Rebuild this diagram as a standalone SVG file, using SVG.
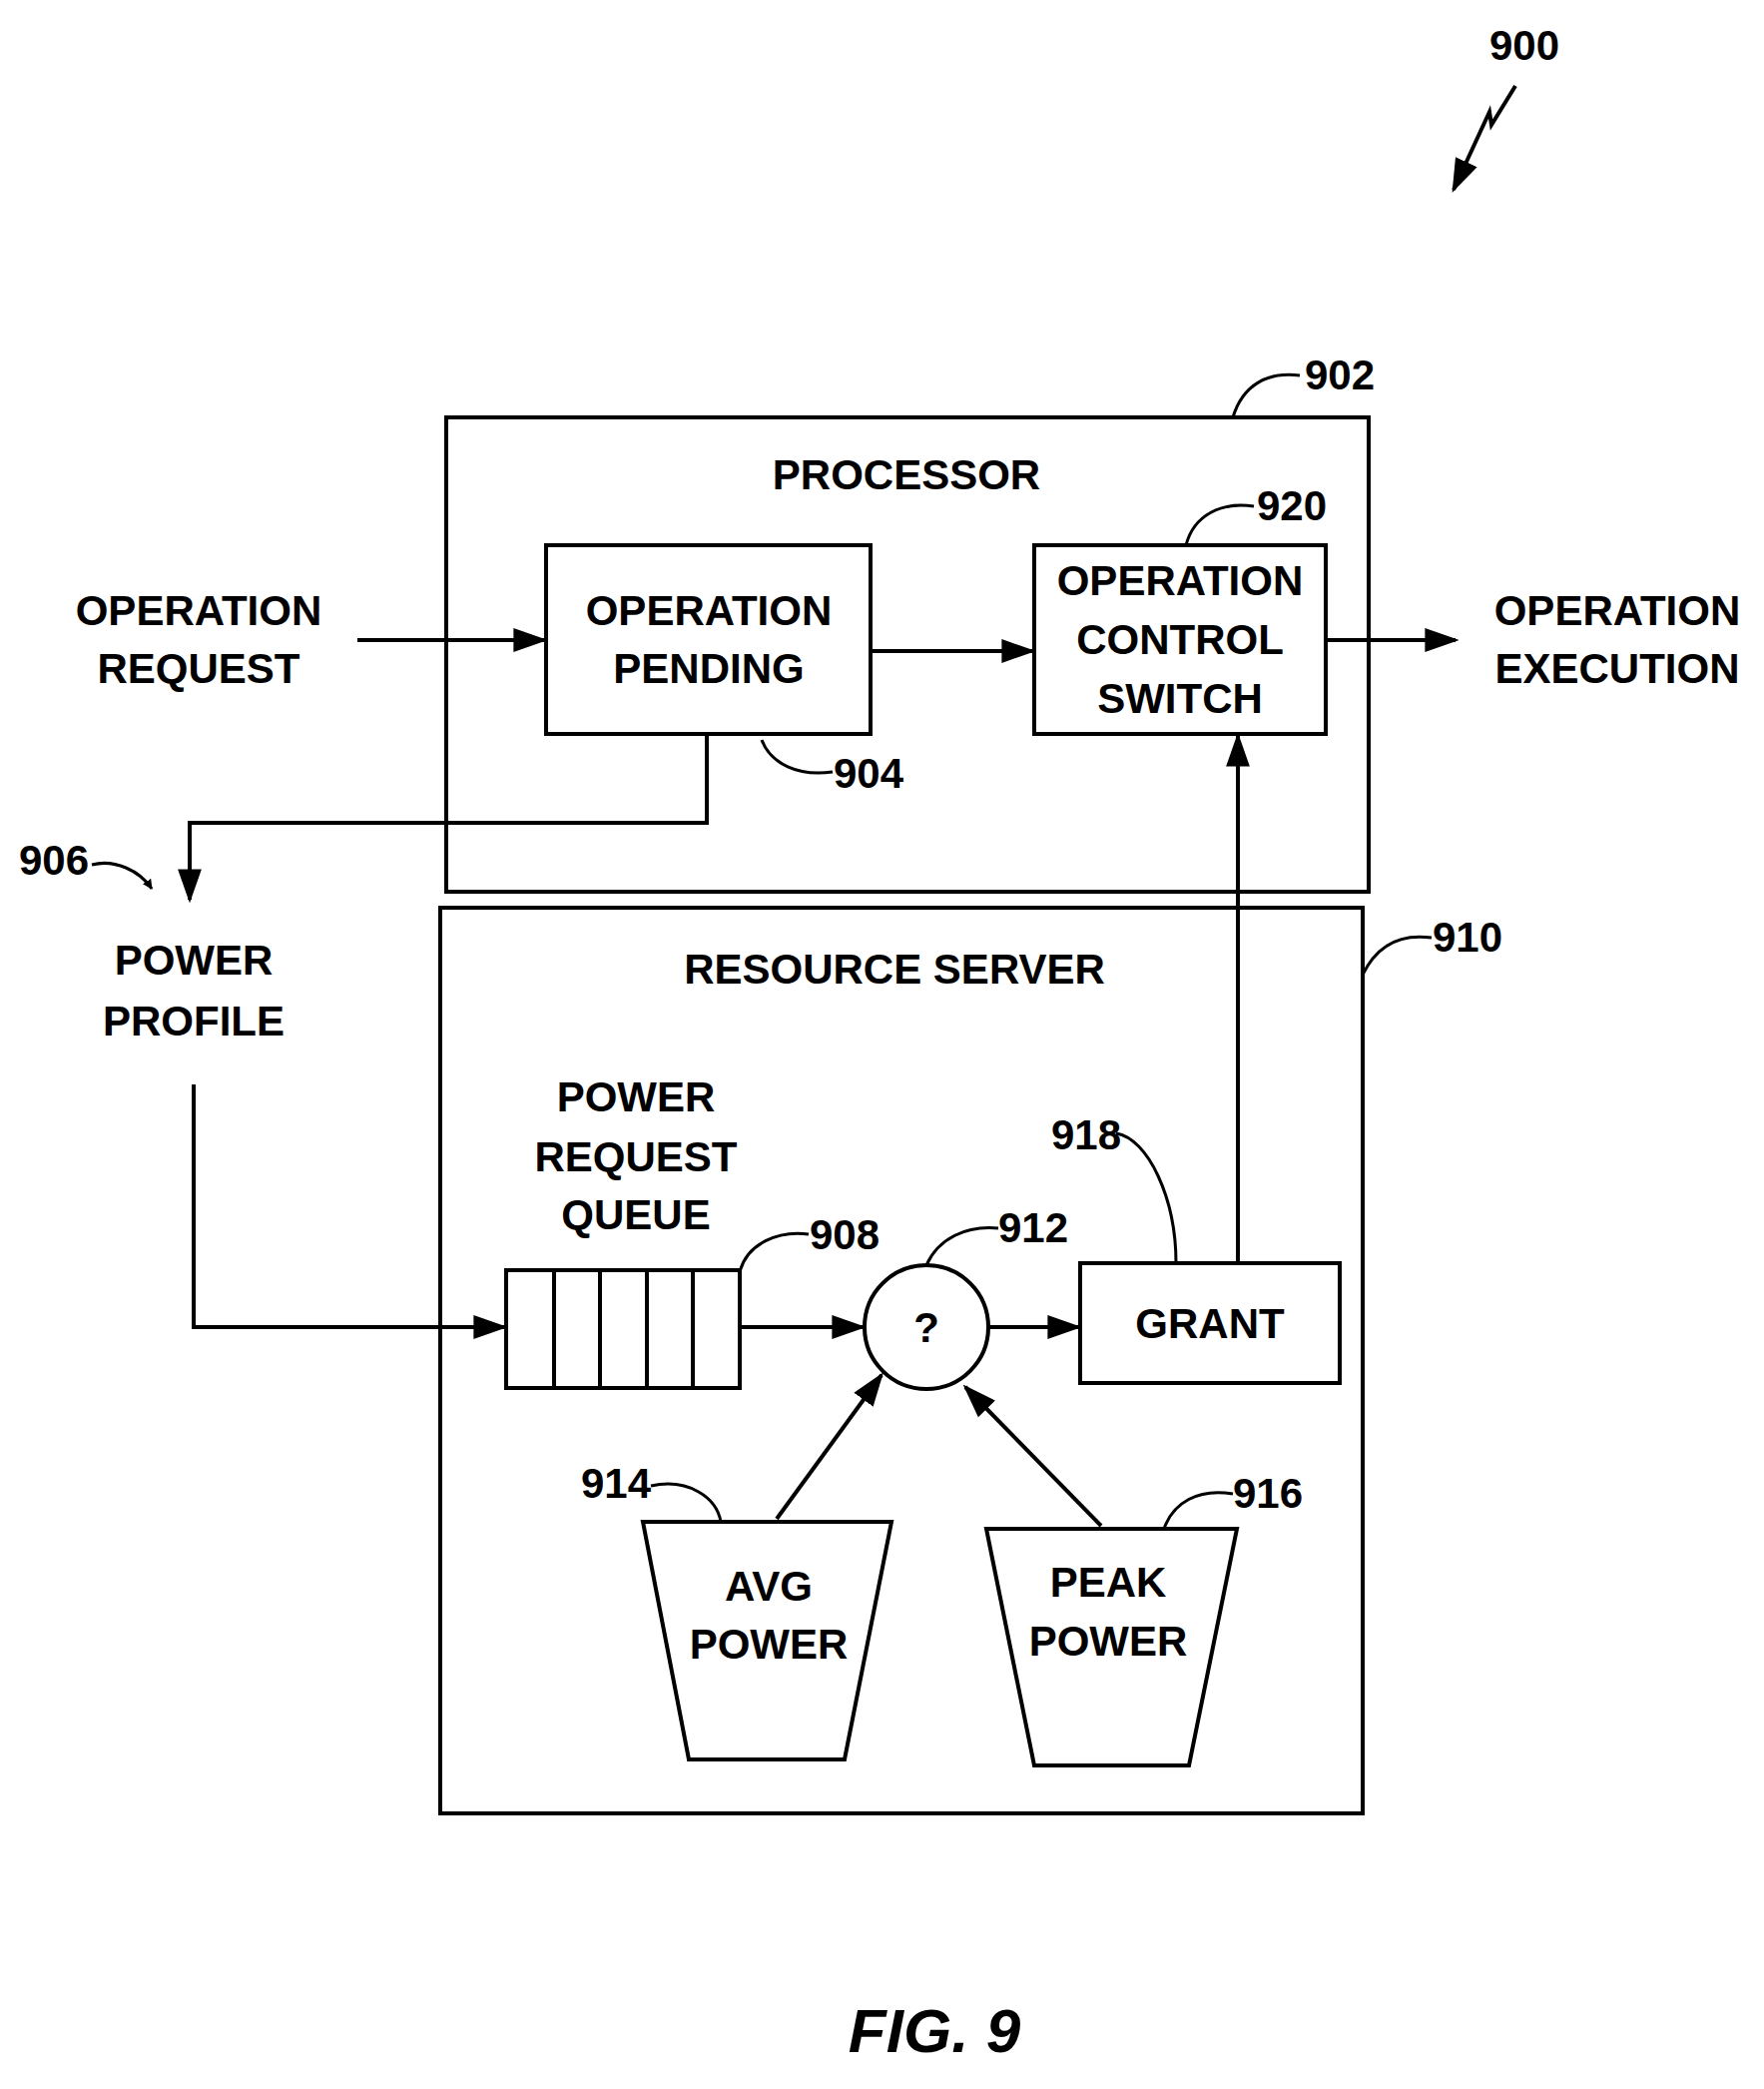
<svg xmlns="http://www.w3.org/2000/svg" width="1767" height="2092" viewBox="0 0 1767 2092">
<style>
text{font-family:"Liberation Sans",Arial,sans-serif;font-weight:bold;font-size:42px;text-anchor:middle;fill:#000}
.b{fill:#fff;stroke:#000;stroke-width:4}
.l{fill:none;stroke:#000;stroke-width:4}
.t{fill:none;stroke:#000;stroke-width:3}
</style>
<defs><marker id="a" markerWidth="10" markerHeight="10" refX="9" refY="5" orient="auto" markerUnits="userSpaceOnUse" viewBox="0 0 10 10"><path d="M0,0 L10,5 L0,10z"/></marker>
<marker id="m" viewBox="0 0 10 10" refX="9" refY="5" markerWidth="34" markerHeight="34" orient="auto" markerUnits="userSpaceOnUse"><path d="M0,1.5 L10,5 L0,8.5z"/></marker></defs>
<g id="processor"><rect class="b" x="447" y="418" width="924" height="475"/><text x="908" y="490">PROCESSOR</text></g>
<g id="server"><rect class="b" x="441" y="909" width="924" height="907"/><text x="896" y="985">RESOURCE SERVER</text></g>
<g id="pending"><rect class="b" x="547" y="546" width="325" height="189"/><text x="710" y="626">OPERATION</text><text x="710" y="684">PENDING</text></g>
<g id="switch"><rect class="b" x="1036" y="546" width="292" height="189"/><text x="1182" y="596">OPERATION</text><text x="1182" y="655">CONTROL</text><text x="1182" y="714">SWITCH</text></g>
<g id="request"><text x="199" y="626">OPERATION</text><text x="199" y="684">REQUEST</text></g>
<g id="execution"><text x="1620" y="626">OPERATION</text><text x="1620" y="684">EXECUTION</text></g>
<g id="profile"><text x="194" y="976">POWER</text><text x="194" y="1037">PROFILE</text></g>
<g id="queuelabel"><text x="637" y="1113">POWER</text><text x="637" y="1173">REQUEST</text><text x="637" y="1231">QUEUE</text></g>
<g id="queue"><rect class="b" x="507" y="1272" width="234" height="118"/><path class="l" d="M555,1272V1390M601,1272V1390M648,1272V1390M694,1272V1390"/></g>
<g id="decision"><circle class="b" cx="928" cy="1329" r="62"/><text x="928" y="1344">?</text></g>
<g id="grant"><rect class="b" x="1082" y="1265" width="260" height="120"/><text x="1212" y="1340">GRANT</text></g>
<g id="avg"><path class="b" d="M644,1524H893L846,1762H690Z"/><text x="770" y="1603">AVG</text><text x="770" y="1661">POWER</text></g>
<g id="peak"><path class="b" d="M988,1531H1239L1191,1768H1036Z"/><text x="1110" y="1599">PEAK</text><text x="1110" y="1658">POWER</text></g>
<g id="connectors" class="l">
<path class="l" d="M358,641H545" marker-end="url(#m)"/>
<path class="l" d="M872,652H1034" marker-end="url(#m)"/>
<path class="l" d="M1328,641H1458" marker-end="url(#m)"/>
<path class="l" d="M708,735V824H190V901" marker-end="url(#m)"/>
<path class="l" d="M194,1086V1329H505" marker-end="url(#m)"/>
<path class="l" d="M741,1329H864" marker-end="url(#m)"/>
<path class="l" d="M990,1329H1080" marker-end="url(#m)"/>
<path class="l" d="M1240,1265V737" marker-end="url(#m)"/>
<path class="l" d="M778,1521L883,1377" marker-end="url(#m)"/>
<path class="l" d="M1103,1528L967,1389" marker-end="url(#m)"/>
</g>
<g id="refs">
<text x="1527" y="60">900</text><path class="l" d="M1518,86L1494,125L1492,112L1456,190" marker-end="url(#m)"/>
<text x="1342" y="390">902</text><path class="t" d="M1235,418C1245,385 1270,372 1302,376"/>
<text x="1294" y="521">920</text><path class="t" d="M1188,546C1196,515 1225,502 1256,507"/>
<text x="870" y="789">904</text><path class="t" d="M763,741C772,765 800,778 834,773"/>
<text x="54" y="876">906</text><path class="t" d="M92,866C115,860 140,872 152,890" marker-end="url(#a)"/>
<text x="1470" y="953">910</text><path class="t" d="M1365,976C1380,945 1405,935 1434,939"/>
<text x="1088" y="1151">918</text><path class="t" d="M1178,1265C1178,1200 1150,1140 1118,1135"/>
<text x="1035" y="1244">912</text><path class="t" d="M928,1267C940,1240 968,1227 1000,1230"/>
<text x="846" y="1251">908</text><path class="t" d="M741,1274C748,1245 780,1232 810,1236"/>
<text x="617" y="1500">914</text><path class="t" d="M652,1488C690,1480 718,1500 722,1524"/>
<text x="1270" y="1510">916</text><path class="t" d="M1166,1531C1175,1505 1200,1490 1235,1496"/>
</g>
<text x="936" y="2055" style="font-style:italic;font-size:62px">FIG. 9</text>
</svg>
